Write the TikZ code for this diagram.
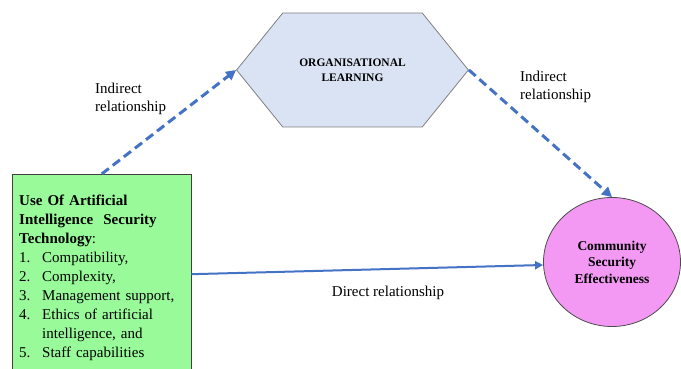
\documentclass[tikz,border=0pt]{standalone}
\usepackage{fontspec}
\setmainfont{Liberation Serif}
\usetikzlibrary{arrows.meta,shapes.geometric,shapes.symbols}
\definecolor{linkblue}{RGB}{68,114,196}
\definecolor{boxgreen}{RGB}{153,250,153}
\definecolor{hexblue}{RGB}{218,227,243}
\definecolor{ovalpink}{RGB}{243,153,243}

\begin{document}
\begin{tikzpicture}[x=1pt,y=1pt]
    \useasboundingbox (0,0) rectangle (681,369);
    \clip (0,0) rectangle (681,369);

    \node[draw=black!75,fill=boxgreen,anchor=north west,text width=165pt,
      inner xsep=7pt,inner ysep=0pt,minimum height=208pt,align=left,
      font=\fontsize{15}{19}\selectfont] (aist) at (12,195)
      {\textbf{Use Of Artificial}\\
       \textbf{Intelligence\ \ Security}\\
       \textbf{Technology}:\\
       \makebox[23pt][l]{1.}Compatibility,\\
       \makebox[23pt][l]{2.}Complexity,\\
       \makebox[23pt][l]{3.}Management support,\\
       \makebox[23pt][l]{4.}Ethics of artificial\\
       \hspace*{23pt}intelligence,\ and\\
       \makebox[23pt][l]{5.}Staff capabilities};

    \node[signal,signal to=east and west,signal pointer angle=102,
      draw=black!50,line width=0.8pt,fill=hexblue,inner xsep=16.5pt,minimum height=114pt,
      align=center,font=\fontsize{11.5}{15}\selectfont\bfseries] (orglearn) at (352.5,299)
      {ORGANISATIONAL\\LEARNING};

    \node[ellipse,draw=black!70,line width=0.8pt,fill=ovalpink,minimum width=137pt,
      minimum height=129pt,align=center,font=\fontsize{13.5}{16.5}\selectfont\bfseries]
      (cse) at (612,107) {Community\\Security\\Effectiveness};

    \begin{scope}[inner sep=0pt,font=\fontsize{15}{18}\selectfont]
      \node[anchor=west,align=left] (lblleft) at (95,270) {Indirect\\relationship};
      \node[anchor=west,align=left] (lblright) at (520,282) {Indirect\\relationship};
      \node (lbldirect) at (388,76) {Direct relationship};
    \end{scope}

    \begin{scope}[color=linkblue,line width=3pt,dash pattern=on 9pt off 5pt,
        -{Triangle[length=10pt,width=10pt]}]
        \path
        (aist.north) edge (orglearn.west)
        (orglearn.east) edge (cse.north);
    \end{scope}
    \draw[linkblue,line width=2pt,-{Triangle[length=8pt,width=8pt]}]
      ([yshift=4pt]aist.east) -- ([yshift=-3pt]cse.west);
\end{tikzpicture}
\end{document}
